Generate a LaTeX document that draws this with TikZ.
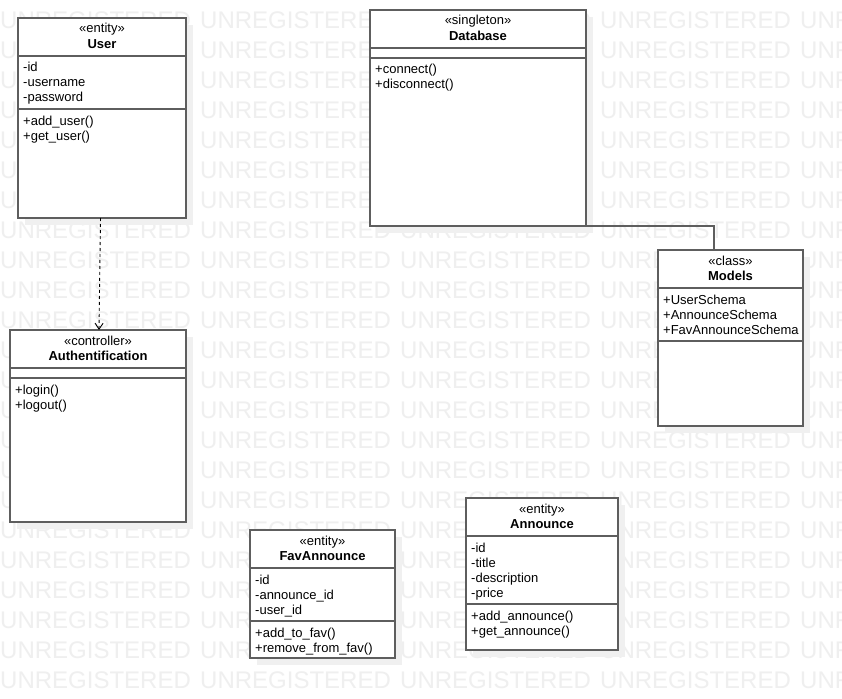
\documentclass[tikz,border=0pt]{standalone}
\usepackage{fontspec}
\setmainfont{Liberation Sans}
\usetikzlibrary{arrows.meta,calc}
\definecolor{wmgray}{HTML}{EFEFEF}
\definecolor{shadowgray}{HTML}{F0F0F0}
\definecolor{boxline}{HTML}{5E5E5E}
\tikzset{
  wm/.style={anchor=base west, inner sep=0pt, text=wmgray, font=\fontsize{24}{24}\selectfont},
  classbox/.style={draw=boxline, line width=1.3pt, fill=white, rectangle, inner sep=0pt, outer sep=0pt, anchor=north west},
  shadowbox/.style={fill=shadowgray, draw=none},
  sepline/.style={draw=boxline, line width=1.3pt},
  member/.style={anchor=base west, inner sep=0pt, yshift=-1pt, font=\fontsize{13}{15}\selectfont},
  stereo/.style={anchor=base, inner sep=0pt, yshift=-1pt, font=\fontsize{13}{15}\selectfont},
  cname/.style={anchor=base, inner sep=0pt, yshift=-1pt, font=\fontsize{13}{15}\selectfont\bfseries},
  depend/.style={draw=black, line width=0.9pt, dash pattern=on 3pt off 3pt, -{Straight Barb[length=6pt,width=8pt]}},
  assoc/.style={draw=boxline, line width=1.3pt}
}
% \umlclass{name}{left}{top}{right}{bottom}{sep1}{sep2}
\newcommand\umlclass[7]{%
  \fill[shadowbox] (#2+7,#3+7) rectangle (#4+7,#5+7);
  \node[classbox, minimum width={(#4-#2)*1pt}, minimum height={(#5-#3)*1pt}] (#1) at (#2,#3) {};
  \draw[sepline] (#2,#6) -- (#4,#6);
  \draw[sepline] (#2,#7) -- (#4,#7);
}
\begin{document}
\begin{tikzpicture}[x=1pt,y=-1pt]
\useasboundingbox (0,0) rectangle (842,698);
\fill[white] (0,0) rectangle (842,698);
% watermark
\foreach \r in {0,...,22}{
  \foreach \c in {0,...,4}{
    \node[wm] (wm-\r-\c) at (\c*200, 28.5+\r*30) {UNREGISTERED};
  }
}
% classes
\umlclass{user}{18}{18}{186}{218}{56}{109}
\umlclass{db}{370}{10}{586}{226}{48}{58}
\umlclass{models}{658}{250}{803}{426}{288}{341}
\umlclass{auth}{10}{330}{186}{522}{368}{378}
\umlclass{fav}{250}{530}{395}{658}{568}{621}
\umlclass{ann}{466}{498}{618}{650}{536}{604}

% User
\node[stereo] (user-st) at (102,32) {«entity»};
\node[cname] (user-nm) at (102,47.5) {User};
\node[member] (user-a1) at (23,71) {-id};
\node[member] (user-a2) at (23,86) {-username};
\node[member] (user-a3) at (23,101) {-password};
\node[member] (user-m1) at (23,124) {+add\_user()};
\node[member] (user-m2) at (23,139) {+get\_user()};

% Database
\node[stereo] (db-st) at (478,24) {«singleton»};
\node[cname] (db-nm) at (478,39.5) {Database};
\node[member] (db-m1) at (375,73) {+connect()};
\node[member] (db-m2) at (375,88) {+disconnect()};

% Models
\node[stereo] (models-st) at (730.5,264) {«class»};
\node[cname] (models-nm) at (730.5,279.5) {Models};
\node[member] (models-a1) at (663,303) {+UserSchema};
\node[member] (models-a2) at (663,318) {+AnnounceSchema};
\node[member] (models-a3) at (663,333) {+FavAnnounceSchema};

% Authentification
\node[stereo] (auth-st) at (98,344) {«controller»};
\node[cname] (auth-nm) at (98,359.5) {Authentification};
\node[member] (auth-m1) at (15,393) {+login()};
\node[member] (auth-m2) at (15,408) {+logout()};

% FavAnnounce
\node[stereo] (fav-st) at (322.5,544) {«entity»};
\node[cname] (fav-nm) at (322.5,559.5) {FavAnnounce};
\node[member] (fav-a1) at (255,583) {-id};
\node[member] (fav-a2) at (255,598) {-announce\_id};
\node[member] (fav-a3) at (255,613) {-user\_id};
\node[member] (fav-m1) at (255,636) {+add\_to\_fav()};
\node[member] (fav-m2) at (255,651) {+remove\_from\_fav()};

% Announce
\node[stereo] (ann-st) at (542,512) {«entity»};
\node[cname] (ann-nm) at (542,527.5) {Announce};
\node[member] (ann-a1) at (471,551) {-id};
\node[member] (ann-a2) at (471,566) {-title};
\node[member] (ann-a3) at (471,581) {-description};
\node[member] (ann-a4) at (471,596) {-price};
\node[member] (ann-m1) at (471,619) {+add\_announce()};
\node[member] (ann-m2) at (471,634) {+get\_announce()};

% connectors
\draw[depend] ($(user.south)+(-1.5,0)$) -- ($(auth.north)+(1,0)$);
\coordinate (mtop) at ($(models.north)+(-16.5,0)$);
\draw[assoc] (db.south east) -| (mtop);
\end{tikzpicture}
\end{document}
